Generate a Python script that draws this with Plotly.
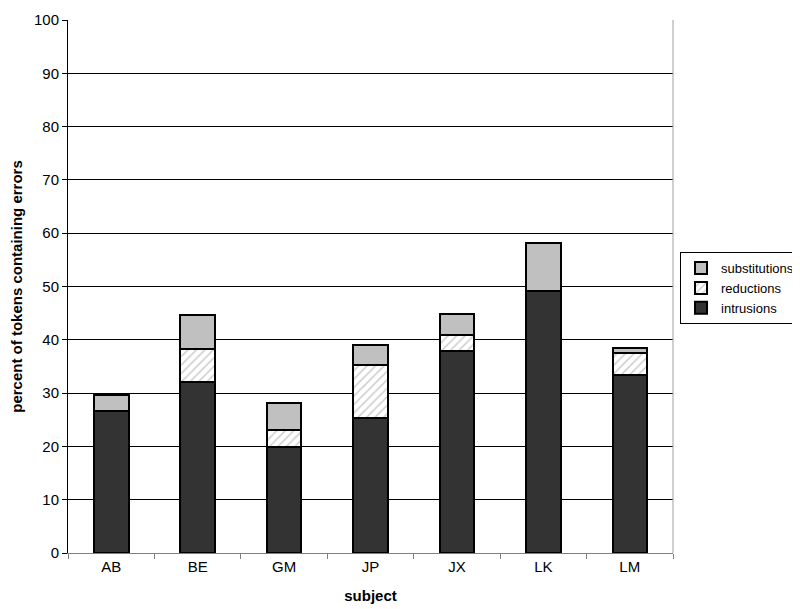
import plotly.graph_objects as go

subjects = ["AB", "BE", "GM", "JP", "JX", "LK", "LM"]
intrusions = [26.6, 32.1, 19.9, 25.4, 37.9, 49.2, 33.4]
reductions = [0.0, 6.2, 3.2, 9.9, 3.0, 0.0, 4.1]
substitutions = [3.0, 6.3, 5.0, 3.7, 3.9, 9.0, 1.0]

line = dict(color="black", width=2)
fig = go.Figure()
fig.add_trace(go.Bar(name="intrusions", x=subjects, y=intrusions,
                     marker=dict(color="#333333", line=line)))
fig.add_trace(go.Bar(name="reductions", x=subjects, y=reductions,
                     marker=dict(color="white", line=line,
                                 pattern=dict(shape="/", fgcolor="#999999", bgcolor="white",
                                              size=6, solidity=0.25))))
fig.add_trace(go.Bar(name="substitutions", x=subjects, y=substitutions,
                     marker=dict(color="#c0c0c0", line=line)))

font = dict(family="Liberation Sans", size=15, color="black")
fig.update_layout(
    barmode="stack", bargap=0.6,
    width=800, height=609,
    margin=dict(l=60, r=135, t=12, b=64, autoexpand=False),
    paper_bgcolor="white", plot_bgcolor="white",
    font=font,
    showlegend=True,
    legend=dict(x=1.0116, y=0.497, xanchor="left", yanchor="middle",
                traceorder="reversed", bordercolor="black", borderwidth=1,
                bgcolor="white", font=dict(size=13, family="Liberation Sans"),
                itemwidth=30, tracegroupgap=0),
    xaxis=dict(title=dict(text="<b>subject</b>", standoff=16, font=dict(size=15)),
               automargin=False,
               showline=True, linecolor="#808080", linewidth=1,
               ticks="outside", ticklen=5, tickcolor="#808080",
               tickson="boundaries", showgrid=False),
    yaxis=dict(title=dict(text="<b>percent of tokens containing errors</b>", standoff=10,
                          font=dict(size=15)),
               automargin=False,
               range=[0, 100], dtick=10,
               showline=True, linecolor="black", linewidth=1,
               ticks="outside", ticklen=5, tickcolor="black",
               showgrid=True, gridcolor="black", gridwidth=1, zeroline=False),
    shapes=[dict(type="line", xref="paper", yref="paper", x0=1, x1=1, y0=0, y1=1,
                 line=dict(color="#a0a0a0", width=1))],
)
fig.write_html("out.html")
